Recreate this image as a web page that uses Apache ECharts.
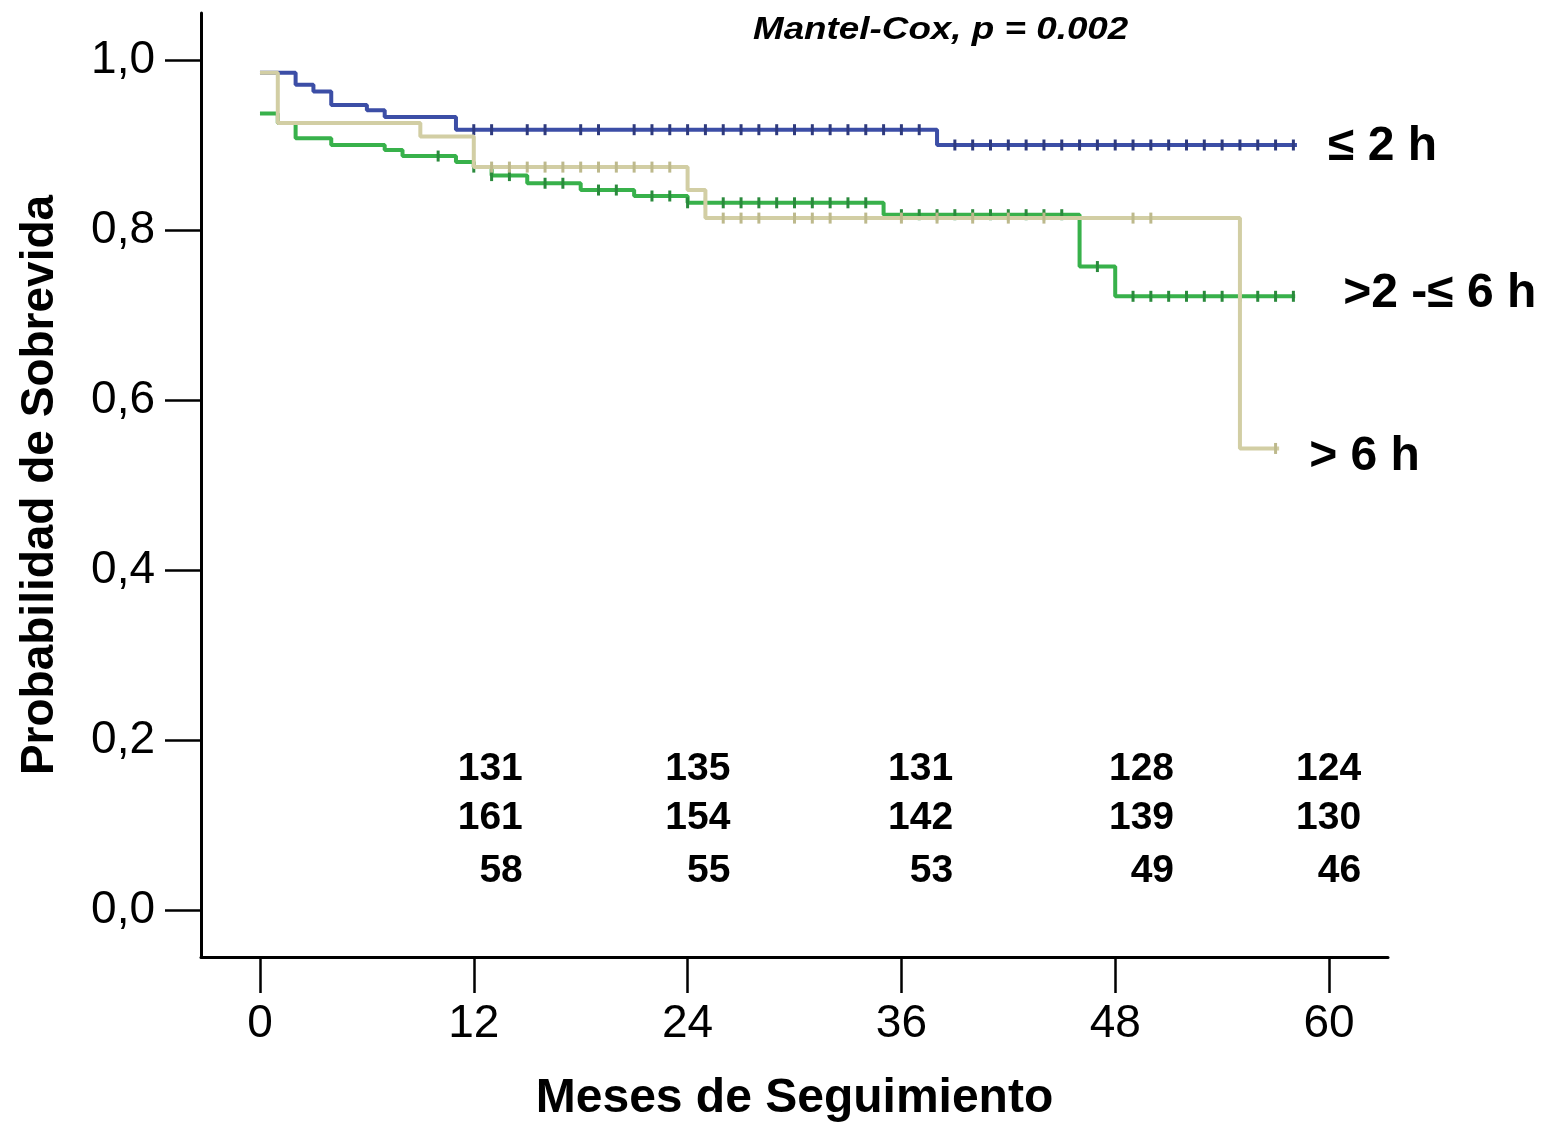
<!DOCTYPE html>
<html><head><meta charset="utf-8">
<script src="https://cdn.jsdelivr.net/npm/echarts@6/dist/echarts.min.js"></script>
<style>html,body{margin:0;padding:0;background:#fff}#c{width:1553px;height:1122px}</style>
</head><body><div id="c"></div>
<script>
// ---- data ----
const groupNames = ['≤ 2 h', '>2 -≤ 6 h', '> 6 h'];

const le2Times = [0, 2, 3, 4, 6, 7, 11, 38, 58.2];
const le2Surv  = [0.985, 0.971, 0.963, 0.947, 0.941, 0.933, 0.918, 0.900, 0.900];
const le2Censor = [12,13,15,16,18,19,21,22,23,24,25,26,27,28,29,30,31,32,33,34,35,36,37,39,40,41,42,43,44,45,46,47,48,49,50,51,52,53,54,55,56,57,58];

const midTimes = [0, 1, 2, 4, 7, 8, 11, 12, 13, 15, 18, 21, 24, 35, 46, 48, 58.1];
const midSurv  = [0.937, 0.926, 0.908, 0.900, 0.894, 0.887, 0.880, 0.874, 0.864, 0.855, 0.847, 0.840, 0.832, 0.818, 0.757, 0.722, 0.722];
const midCensor = [10,12,13,14,16,17,19,20,22,23,24,25,26,27,28,29,30,31,32,33,34,36,37,38,39,40,41,42,43,44,45,47,49,50,51,52,53,54,55,56,57,58];

const gt6Times = [0, 1, 9, 12, 24, 25, 55, 57.2];
const gt6Surv  = [0.985, 0.926, 0.910, 0.874, 0.847, 0.814, 0.543, 0.543];
const gt6Censor = [13,14,15,16,17,18,19,20,21,22,23,26,27,28,30,31,32,34,36,38,40,42,44,49,50,57];

const xTicks = [0, 12, 24, 36, 48, 60];
const yTicks = [0, 0.2, 0.4, 0.6, 0.8, 1.0];

const atRiskLe2 = [131, 135, 131, 128, 124];
const atRiskMid = [161, 154, 142, 139, 130];
const atRiskGt6 = [58, 55, 53, 49, 46];

const titleText = 'Mantel-Cox, p = 0.002';
const xTitle = 'Meses de Seguimiento';
const yTitle = 'Probabilidad de Sobrevida';

// ---- layout constants (not data) ----
const atRiskColX = [14.75, 26.4, 38.9, 51.3, 61.8];
const atRiskRowY = [0.165, 0.108, 0.046];

// ---- build ----
function pairs(t, s) { return t.map((v, i) => [v, s[i]]); }
function stepAt(t, s, x) { let y = s[0]; for (let i = 0; i < t.length; i++) { if (t[i] <= x) y = s[i]; } return y; }
function censorPts(c, t, s) { return c.map(x => [x, stepAt(t, s, x)]); }

const font = 'Liberation Sans, Arial, sans-serif';
const colors = ['#3c4ea6', '#38b14b', '#d2cea4'];
const tickColors = ['#2e3a7e', '#2a8a3c', '#bdb98c'];
const curves = [[le2Times, le2Surv, le2Censor], [midTimes, midSurv, midCensor], [gt6Times, gt6Surv, gt6Censor]];
const endLabelStyle = [
  { distance: 31, offset: [0, 2] },
  { distance: 48, offset: [0, -3] },
  { distance: 30, offset: [0, 8] }
];

const series = [];
[0, 1, 2].forEach(g => {
  const [t, s, c] = curves[g];
  series.push({
    type: 'line', name: groupNames[g], step: 'end', showSymbol: false,
    data: pairs(t, s), z: 2 + g,
    lineStyle: { color: colors[g], width: 4 },
    itemStyle: { color: colors[g] },
    endLabel: {
      show: true, formatter: groupNames[g], color: '#000',
      fontFamily: font, fontWeight: 'bold', fontSize: 48,
      distance: endLabelStyle[g].distance, offset: endLabelStyle[g].offset
    }
  });
  series.push({
    type: 'scatter', data: censorPts(c, t, s), z: 2 + g,
    symbol: 'rect', symbolSize: [3, 11],
    itemStyle: { color: tickColors[g], opacity: 1 }
  });
});

const riskRows = [atRiskLe2, atRiskMid, atRiskGt6];
const riskData = [];
riskRows.forEach((row, r) => row.forEach((v, i) => riskData.push([atRiskColX[i], atRiskRowY[r], v])));
series.push({
  type: 'scatter', data: riskData, symbolSize: 0, silent: true, z: 10,
  itemStyle: { opacity: 1 },
  label: {
    show: true, position: 'left', distance: 0, color: '#000', opacity: 1,
    fontFamily: font, fontWeight: 'bold', fontSize: 39,
    formatter: p => String(p.value[2])
  }
});

const chart = echarts.init(document.getElementById('c'), null, { renderer: 'canvas' });
chart.setOption({
  animation: false,
  backgroundColor: '#fff',
  grid: { left: 201, right: 165, top: 13, bottom: 165, containLabel: false, outerBoundsMode: 'none' },
  xAxis: {
    type: 'value', min: -3.31, max: 63.31,
    name: xTitle, nameLocation: 'middle', nameGap: 118,
    nameTextStyle: { fontFamily: font, fontWeight: 'bold', fontSize: 48, color: '#000' },
    axisLine: { show: true, onZero: false, lineStyle: { color: '#000', width: 3 } },
    axisTick: { show: true, inside: false, length: 36, lineStyle: { color: '#000', width: 2.5 }, customValues: xTicks },
    axisLabel: { show: true, margin: 44, fontFamily: font, fontSize: 46, color: '#000', customValues: xTicks },
    splitLine: { show: false }
  },
  yAxis: {
    type: 'value', min: -0.0553, max: 1.0553,
    name: yTitle, nameLocation: 'middle', nameGap: 138, nameRotate: 90,
    nameTextStyle: { fontFamily: font, fontWeight: 'bold', fontSize: 46, color: '#000' },
    axisLine: { show: true, onZero: false, lineStyle: { color: '#000', width: 3 } },
    axisTick: { show: true, inside: false, length: 36, lineStyle: { color: '#000', width: 2.5 }, customValues: yTicks },
    axisLabel: { show: true, margin: 46, fontFamily: font, fontSize: 46, color: '#000', customValues: yTicks,
      formatter: v => v.toFixed(1).replace('.', ',') },
    splitLine: { show: false }
  },
  graphic: [{
    type: 'text', x: 753, y: 30, scaleX: 1.15, z: 10,
    style: { text: titleText, font: 'italic bold 32px Liberation Sans, Arial, sans-serif', fill: '#000',
      textAlign: 'left', textVerticalAlign: 'middle' }
  }],
  series: series
});
</script>
</body></html>
